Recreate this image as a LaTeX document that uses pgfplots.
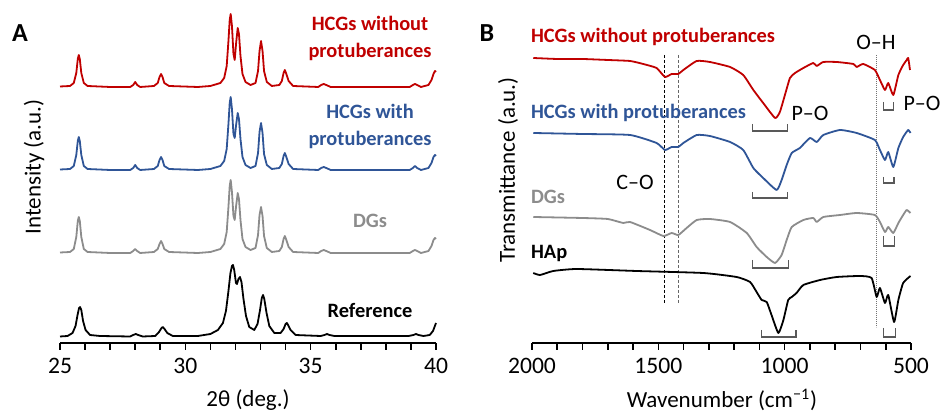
\documentclass[border=0pt]{standalone}
\usepackage{fontspec}
\setmainfont{Carlito}
\usepackage{pgfplots}
\pgfplotsset{compat=1.18}

\definecolor{cred}{HTML}{C00000}
\definecolor{cblue}{HTML}{2F5597}
\definecolor{cgray}{HTML}{8C8C8C}

\pgfplotsset{
  spec/.style={
    scale only axis, height=166.5pt, anchor=south west,
    ymin=73, ymax=406, clip=false,
    axis x line*=bottom, hide y axis,
    axis line style={line width=1pt},
    tick align=outside, major tick length=3.5pt, minor tick length=3.5pt,
    tick style={black, line width=0.8pt},
    minor x tick num=4,
    /pgf/number format/assume math mode=true,
    /pgf/number format/1000 sep={},
    ticklabel style={font=\fontsize{11.8}{13}\selectfont},
    xticklabel shift=0.5pt,
  },
  ftir/.style={line width=0.9pt, smooth, tension=0.3, line join=round},
}

\begin{document}
\begin{tikzpicture}
\useasboundingbox (0,0) rectangle (471pt,-208pt);

% ---- A: XRD ----
\begin{axis}[spec, at={(30pt,-171.5pt)}, width=188pt,
  xmin=25, xmax=40, xtick={25,30,35,40}]
\addplot[cred, line width=0.9pt, line join=round] coordinates {
(25,329.5) (25.4,330) (25.55,333) (25.65,343) (25.71,357) (25.75,361) (25.79,357) (25.85,343) (25.95,333) (26.1,330) (27,329) (27.8,329) (27.92,331) (28,334) (28.08,331) (28.2,329) (28.75,330) (28.9,333) (28.97,339) (29.03,342) (29.09,339) (29.16,333) (29.35,330) (30.5,329) (31,330) (31.4,333) (31.55,338) (31.65,350) (31.72,375) (31.77,396) (31.81,402) (31.86,390) (31.92,362) (31.97,356) (32.03,374) (32.09,388) (32.14,382) (32.2,360) (32.28,342) (32.4,334) (32.6,331) (32.8,333) (32.9,345) (32.96,365) (33.02,375) (33.08,365) (33.14,345) (33.25,334) (33.45,330) (33.75,331) (33.85,335) (33.92,343) (33.97,346) (34.03,342) (34.12,335) (34.3,330) (35.3,329) (35.42,331) (35.52,332) (35.62,331) (35.8,329) (38.95,329) (39.08,331) (39.16,332) (39.25,331) (39.4,329) (39.7,331) (39.82,336) (39.9,342) (39.96,345) (40,344)
};
\addplot[cblue, line width=0.9pt, line join=round] coordinates {
(25,246.5) (25.4,247) (25.55,250) (25.65,261) (25.71,275) (25.75,279) (25.79,275) (25.85,261) (25.95,250) (26.1,247) (27,246) (27.8,246) (27.92,248) (28,251) (28.08,248) (28.2,246) (28.75,247) (28.9,250) (28.97,256) (29.03,259) (29.09,256) (29.16,250) (29.35,247) (30.5,246) (31,247) (31.4,250) (31.55,255) (31.65,267) (31.72,292) (31.77,313) (31.81,319) (31.86,307) (31.92,282) (31.97,278) (32.03,292) (32.09,303) (32.14,297) (32.2,277) (32.28,259) (32.4,251) (32.6,248) (32.8,250) (32.9,263) (32.96,284) (33.02,293) (33.08,283) (33.14,262) (33.25,251) (33.45,247) (33.75,248) (33.85,252) (33.92,260) (33.97,263) (34.03,259) (34.12,252) (34.3,247) (35.3,246) (35.42,248) (35.52,249) (35.62,248) (35.8,246) (38.95,246) (39.08,248) (39.16,250) (39.25,248) (39.4,246) (39.7,248) (39.82,253) (39.9,259) (39.96,261) (40,260)
};
\addplot[cgray, line width=0.9pt, line join=round] coordinates {
(25,163.5) (25.4,164) (25.55,167) (25.65,179) (25.71,195) (25.75,199) (25.79,195) (25.85,179) (25.95,167) (26.1,164) (27,163) (27.8,163) (27.92,165) (28,167) (28.08,165) (28.2,163) (28.75,164) (28.9,167) (28.97,172) (29.03,175) (29.09,172) (29.16,167) (29.35,164) (30.5,163) (31,164) (31.4,167) (31.55,172) (31.65,184) (31.72,209) (31.77,230) (31.81,236) (31.86,224) (31.92,200) (31.97,196) (32.03,211) (32.09,223) (32.14,217) (32.2,196) (32.28,177) (32.4,169) (32.6,166) (32.8,168) (32.9,181) (32.96,201) (33.02,209) (33.08,200) (33.14,180) (33.25,168) (33.45,164) (33.75,165) (33.85,169) (33.92,177) (33.97,180) (34.03,176) (34.12,169) (34.3,164) (35.3,163) (35.42,165) (35.52,166) (35.62,165) (35.8,163) (38.95,163) (39.08,165) (39.16,166) (39.25,165) (39.4,163) (39.7,165) (39.82,170) (39.9,176) (39.96,178) (40,177)
};
\addplot[black, line width=0.9pt, line join=round] coordinates {
(25,79.5) (25.3,80) (25.5,83) (25.62,90) (25.7,101) (25.76,108) (25.8,109) (25.85,106) (25.92,95) (26.02,86) (26.2,81) (26.6,80) (27.8,79.5) (27.92,81) (28.02,82) (28.12,81) (28.3,79.5) (28.8,80) (28.95,84) (29.05,88) (29.1,89) (29.17,87) (29.28,83) (29.5,80) (30.5,80) (31,82) (31.3,86) (31.5,93) (31.62,105) (31.72,125) (31.8,143) (31.86,150) (31.9,151) (31.95,146) (32.02,133) (32.06,132) (32.12,137) (32.18,139) (32.24,134) (32.32,117) (32.42,100) (32.55,89) (32.75,86) (32.88,92) (32.98,106) (33.05,118) (33.1,121) (33.15,117) (33.24,103) (33.35,90) (33.55,83) (33.8,83) (33.92,87) (34,92) (34.05,93) (34.1,91) (34.2,86) (34.4,81) (35.4,80) (35.55,81) (35.65,82) (35.75,81) (35.95,80) (38.9,80) (39.1,81) (39.2,82) (39.3,81) (39.5,80) (39.75,81) (39.88,85) (40,93)
};
\end{axis}

% ---- B: FTIR ----
\begin{axis}[spec, at={(266pt,-171.5pt)}, width=189.5pt,
  xmin=500, xmax=2000, x dir=reverse, xtick={500,1000,1500,2000}]
% band markers
\draw[black, dash pattern=on 1.5pt off 1pt, line width=0.6pt] (axis cs:1477,361) -- (axis cs:1477,113);
\draw[black!60, dash pattern=on 1.5pt off 1pt, line width=0.5pt] (axis cs:1421,361) -- (axis cs:1421,113);
\draw[black!55, dash pattern=on 0.4pt off 0.6pt, line width=0.5pt] (axis cs:636,361) -- (axis cs:636,89);
\addplot[cred, ftir] coordinates {
(1995,358) (1900,357) (1800,357) (1700,356) (1612,355) (1560,352) (1507,348) (1474,339) (1447,342) (1421,342) (1401,346) (1348,355) (1296,354) (1216,349) (1164,341) (1124,326) (1085,313) (1038,298) (1019,304) (999,321) (979,338) (959,343) (926,348) (887,353) (873,350) (847,354) (794,354) (728,352) (715,349) (689,352) (643,346) (623,336) (603,326) (590,333) (570,321) (550,341) (531,351) (517,356) (511,358) (504,346)
};
\addplot[cblue, ftir] coordinates {
(1995,283) (1800,282) (1612,281) (1507,273) (1474,266) (1447,269) (1421,269) (1401,273) (1348,281) (1296,280) (1216,274) (1164,266) (1124,248) (1085,238) (1032,226) (1012,236) (992,251) (972,263) (940,268) (900,278) (873,274) (847,281) (781,286) (715,283) (643,276) (623,266) (603,256) (590,264) (570,249) (550,268) (531,279) (511,286) (502,283)
};
\addplot[cgray, ftir] coordinates {
(1995,199) (1800,198) (1700,197) (1639,193) (1612,194) (1533,186) (1480,180) (1447,183) (1421,181) (1388,188) (1348,196) (1296,197) (1216,194) (1150,183) (1111,169) (1071,159) (1038,153) (1012,161) (992,176) (972,189) (926,196) (887,198) (873,194) (847,199) (781,201) (715,203) (643,201) (623,194) (603,184) (590,189) (570,183) (550,193) (531,201) (517,206) (502,203)
};
\addplot[black, ftir] coordinates {
(1995,143) (1968,141) (1916,145) (1823,147) (1586,145) (1322,143) (1190,139) (1137,134) (1111,124) (1091,116) (1071,114) (1052,101) (1025,83) (1005,96) (986,116) (972,119) (953,123) (926,131) (860,136) (794,139) (702,140) (656,138) (636,119) (623,128) (603,113) (590,121) (567,94) (550,116) (531,133) (502,140)
};
% brackets under P-O bands
\draw[black!65, line width=0.6pt] (axis cs:1127,292) |- (axis cs:988,285) -- (axis cs:988,292);
\draw[black!65, line width=0.6pt] (axis cs:610,314) |- (axis cs:570,306) -- (axis cs:570,314);
\draw[black!65, line width=0.6pt] (axis cs:1127,224) |- (axis cs:988,218) -- (axis cs:988,224);
\draw[black!65, line width=0.6pt] (axis cs:610,239) |- (axis cs:567,233) -- (axis cs:567,239);
\draw[black!65, line width=0.6pt] (axis cs:1127,156) |- (axis cs:985,148) -- (axis cs:985,156);
\draw[black!65, line width=0.6pt] (axis cs:610,180) |- (axis cs:565,170) -- (axis cs:565,180);
\draw[black!65, line width=0.6pt] (axis cs:1091,86) |- (axis cs:955,79) -- (axis cs:955,86);
\draw[black!65, line width=0.6pt] (axis cs:610,88) |- (axis cs:560,79) -- (axis cs:560,88);
\end{axis}

% ---- texts ----
\def\lab{\fontsize{10.2}{13.5}\selectfont\bfseries}
\def\ann{\fontsize{11}{12}\selectfont}
\def\big{\fontsize{11.5}{13}\selectfont}
\node[font=\fontsize{13}{15}\selectfont\bfseries] at (10pt,-16.5pt) {A};
\node[font=\fontsize{13}{15}\selectfont\bfseries] at (243.5pt,-16.5pt) {B};
\node[font=\lab, text=cred, align=center] at (185pt,-19.25pt) {HCGs without\\protuberances};
\node[font=\lab, text=cblue, align=center] at (185pt,-63.25pt) {HCGs with\\protuberances};
\node[font=\lab, text=cgray] at (185pt,-110.5pt) {DGs};
\node[font=\lab] at (185pt,-155pt) {Reference};
\node[font=\big, rotate=90] at (17pt,-83.5pt) {Intensity (a.u.)};
\node[font=\big] at (124pt,-200pt) {2θ (deg.)};

\node[font=\lab, text=cred, anchor=west] at (262pt,-18.5pt) {HCGs without protuberances};
\node[font=\lab, text=cblue, anchor=west] at (262pt,-56.5pt) {HCGs with protuberances};
\node[font=\lab, text=cgray, anchor=west] at (262pt,-98.5pt) {DGs};
\node[font=\lab, anchor=west] at (262pt,-126.5pt) {HAp};
\node[font=\ann] at (317.5pt,-91pt) {C–O};
\node[font=\ann] at (438pt,-21pt) {O–H};
\node[font=\ann] at (405pt,-56.5pt) {P–O};
\node[font=\ann] at (461pt,-51.5pt) {P–O};
\node[font=\big, rotate=90] at (254pt,-85pt) {Transmittance (a.u.)};
\node[font=\big] at (361pt,-200pt) {Wavenumber (cm\textsuperscript{−1})};
\end{tikzpicture}
\end{document}
